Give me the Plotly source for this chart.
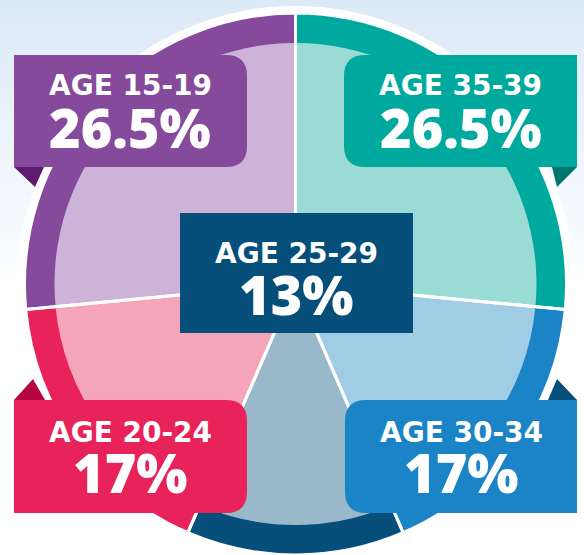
import plotly.graph_objects as go

# ---------------- data ----------------
age_groups = ["AGE 35-39", "AGE 30-34", "AGE 25-29", "AGE 20-24", "AGE 15-19"]
shares = [26.5, 17, 13, 17, 26.5]
share_text = ["26.5%", "17%", "13%", "17%", "26.5%"]

ring_colors = ["#00A99D", "#1A84C7", "#054F7A", "#E8235A", "#864A9C"]
inner_colors = ["#9BDBD6", "#A1CCE6", "#99B8CA", "#F4A5BA", "#CDB3D8"]
fold_colors = ["#00756E", "#054F7A", None, "#B5073F", "#5E1A6B"]

# ---------------- geometry (pixels) ----------------
W, H = 584, 555
CX, CY = 295.5, 284
R_RING, R_INNER, R_WHITE = 271, 241, 278


def dom(r):
    return dict(x=[(CX - r) / W, (CX + r) / W],
                y=[1 - (CY + r) / H, 1 - (CY - r) / H])


def px(x, y):
    return x / W, 1 - y / H


def path(cmds):
    out = []
    for c in cmds:
        if isinstance(c, str):
            out.append(c)
        else:
            x, y = px(*c)
            out.append(f"{x:.5f},{y:.5f}")
    return " ".join(out)


fig = go.Figure()

common = dict(labels=age_groups, values=shares, sort=False, direction="clockwise",
              rotation=0, textinfo="none", hoverinfo="skip", showlegend=False)

fig.add_trace(go.Pie(**common, domain=dom(R_RING),
                     marker=dict(colors=ring_colors, line=dict(width=0))))
fig.add_trace(go.Pie(**common, domain=dom(R_INNER),
                     marker=dict(colors=inner_colors, line=dict(width=0))))
fig.add_trace(go.Pie(**common, domain=dom(R_RING),
                     marker=dict(colors=["rgba(0,0,0,0)"] * 5,
                                 line=dict(color="white", width=3))))

shapes = []
# background gradient
N = 40
top = (220, 234, 247)
for i in range(N):
    t = i / (N - 1)
    c = tuple(int(round(top[k] + (255 - top[k]) * t)) for k in range(3))
    y0 = i * 300 / N
    y1 = (i + 1) * 300 / N + 1
    x0, yy0 = px(0, y1)
    x1, yy1 = px(W, y0)
    shapes.append(dict(type="rect", xref="paper", yref="paper", x0=x0, x1=x1, y0=yy0, y1=yy1,
                       fillcolor=f"rgb{c}", line=dict(width=0), layer="below"))
# white circle behind pie
a0, b0 = px(CX - R_WHITE, CY + R_WHITE)
a1, b1 = px(CX + R_WHITE, CY - R_WHITE)
shapes.append(dict(type="circle", xref="paper", yref="paper", x0=a0, x1=a1, y0=b0, y1=b1,
                   fillcolor="white", line=dict(width=0), layer="below"))

rr = 21
# boxes: (x0, y0, x1, y1, rounded side)
boxes = {
    "AGE 35-39": (344, 55, 577, 167, "left"),
    "AGE 30-34": (345, 400, 577, 513, "left"),
    "AGE 25-29": (180, 213, 413, 333, None),
    "AGE 20-24": (14, 400, 247, 513, "right"),
    "AGE 15-19": (14, 55, 247, 167, "right"),
}
folds = {
    "AGE 35-39": [(552, 167), (577, 167), (557, 187)],
    "AGE 30-34": [(548, 400), (577, 400), (557, 379)],
    "AGE 20-24": [(14, 400), (45, 400), (33, 379)],
    "AGE 15-19": [(14, 167), (44, 167), (35, 187)],
}

for i, g in enumerate(age_groups):
    x0, y0, x1, y1, side = boxes[g]
    if side == "right":
        cmds = ["M", (x0, y0), "L", (x1 - rr, y0), "Q", (x1, y0), (x1, y0 + rr),
                "L", (x1, y1 - rr), "Q", (x1, y1), (x1 - rr, y1), "L", (x0, y1), "Z"]
    elif side == "left":
        cmds = ["M", (x1, y0), "L", (x0 + rr, y0), "Q", (x0, y0), (x0, y0 + rr),
                "L", (x0, y1 - rr), "Q", (x0, y1), (x0 + rr, y1), "L", (x1, y1), "Z"]
    else:
        cmds = ["M", (x0, y0), "L", (x1, y0), "L", (x1, y1), "L", (x0, y1), "Z"]
    shapes.append(dict(type="path", xref="paper", yref="paper", path=path(cmds),
                       fillcolor=ring_colors[i], line=dict(width=0), layer="above"))
    if g in folds:
        p = folds[g]
        shapes.append(dict(type="path", xref="paper", yref="paper",
                           path=path(["M", p[0], "L", p[1], "L", p[2], "Z"]),
                           fillcolor=fold_colors[i], line=dict(width=0), layer="above"))

label_pos = {
    "AGE 35-39": (460.5, 86, 127),
    "AGE 30-34": (461, 432, 472),
    "AGE 25-29": (296, 253, 294),
    "AGE 20-24": (130, 432, 472),
    "AGE 15-19": (130, 86, 127),
}
annotations = []
for i, g in enumerate(age_groups):
    x, ya, yb = label_pos[g]
    ax, ay = px(x, ya)
    bx, by = px(x, yb)
    annotations.append(dict(x=ax, y=ay, xref="paper", yref="paper", text=g, showarrow=False,
                            xanchor="center", yanchor="middle",
                            font=dict(family="DejaVu Sans", size=28, color="white", weight=700)))
    annotations.append(dict(x=bx, y=by, xref="paper", yref="paper", text=share_text[i],
                            showarrow=False, xanchor="center", yanchor="middle",
                            font=dict(family="Open Sans", size=54, color="white", weight=800)))

fig.update_layout(width=W, height=H, margin=dict(l=0, r=0, t=0, b=0),
                  paper_bgcolor="white", plot_bgcolor="white",
                  shapes=shapes, annotations=annotations)

fig.write_html("out.html", config={"displayModeBar": False},
               post_script="document.body.style.margin='0';document.body.style.overflow='hidden';")
